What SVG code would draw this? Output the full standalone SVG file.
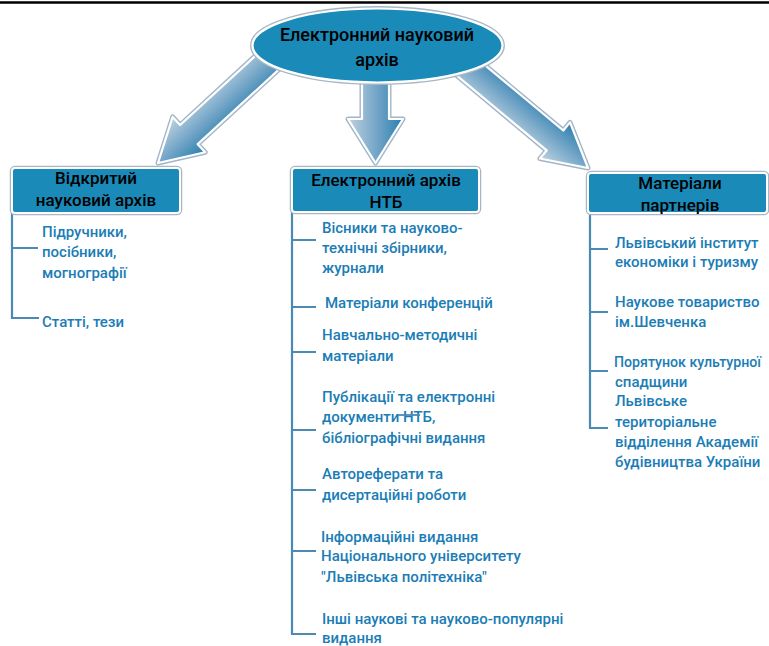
<svg xmlns="http://www.w3.org/2000/svg" width="769" height="646" viewBox="0 0 769 646">
<defs>
<linearGradient id="ag" x1="0" y1="0" x2="1" y2="0">
<stop offset="0" stop-color="#bfd2e0"/>
<stop offset="0.55" stop-color="#6fa3c6"/>
<stop offset="1" stop-color="#2a7fae"/>
</linearGradient>
<style>
.bg{fill:#ffffff}
.arrowOut{fill:none;stroke:#a3b6c6;stroke-width:5;stroke-linejoin:round}
.arrowIn{fill:url(#ag);stroke:#ffffff;stroke-width:2.2;stroke-linejoin:round}
.boxOut{fill:none;stroke:#a9b7c4;stroke-width:4.5}
.box{fill:#1a8ab8;stroke:#ffffff;stroke-width:2}
.hdr{font-family:Roboto,"Liberation Sans",sans-serif;font-size:17px;font-weight:500;fill:#000000;text-anchor:middle}
.ttl{font-family:Roboto,"Liberation Sans",sans-serif;font-size:18px;font-weight:500;fill:#000000;text-anchor:middle}
.item{font-family:Roboto,"Liberation Sans",sans-serif;font-size:15px;font-weight:500;fill:#1b7db6}
.br{fill:none;stroke:#4b8ab4;stroke-width:2.2}
</style>
</defs>
<rect class="bg" x="0" y="0" width="769" height="646"/>
<line x1="0" y1="2.5" x2="769" y2="2.5" stroke="#000000" stroke-width="2.5"/>

<g id="arrows">
<g transform="translate(158,163) rotate(47.4) translate(0,-165)">
<polygon class="arrowOut" points="-13,0 13,0 13,123 24,123 0,165 -24,123 -13,123"/>
<polygon class="arrowIn" points="-13,0 13,0 13,123 24,123 0,165 -24,123 -13,123"/>
</g>
<g transform="translate(375.5,163) rotate(0) translate(0,-95)">
<polygon class="arrowOut" points="-13.5,0 13.5,0 13.5,51 27.5,51 0,95 -27.5,51 -13.5,51"/>
<polygon class="arrowIn" points="-13.5,0 13.5,0 13.5,51 27.5,51 0,95 -27.5,51 -13.5,51"/>
</g>
<g transform="translate(588,168) rotate(-50.2) translate(0,-165)">
<polygon class="arrowOut" points="-13,0 13,0 13,122 23.5,122 0,165 -23.5,122 -13,122"/>
<polygon class="arrowIn" points="-13,0 13,0 13,122 23.5,122 0,165 -23.5,122 -13,122"/>
</g>
</g>

<g id="root">
<ellipse cx="377.5" cy="45.5" rx="125" ry="37" fill="none" stroke="#a9b7c4" stroke-width="5"/>
<ellipse cx="377.5" cy="45.5" rx="125" ry="37" fill="#1a8ab8" stroke="#ffffff" stroke-width="2.2"/>
<text class="ttl" x="377" y="41">Електронний науковий</text>
<text class="ttl" x="377" y="66">архів</text>
</g>

<g id="connectors">
<path class="br" d="M12,213 V318 H39 M12,248 H38"/>
<path class="br" d="M292,212 V634 H316 M292,240 H316 M292,307 H316 M292,352 H316 M292,430 H316 M292,490 H316 M292,551 H316"/>
<path class="br" d="M590,213 V428 H608 M590,249 H608 M590,312 H608 M590,371 H608"/>
</g>

<g id="box-open">
<rect class="boxOut" x="12" y="168" width="168" height="45" rx="3"/>
<rect class="box" x="12" y="168" width="168" height="45" rx="3"/>
<text class="hdr" x="96" y="184">Відкритий</text>
<text class="hdr" x="96" y="206">науковий архів</text>
</g>

<g id="box-ntb">
<rect class="boxOut" x="292" y="168" width="187" height="44" rx="3"/>
<rect class="box" x="292" y="168" width="187" height="44" rx="3"/>
<text class="hdr" x="386" y="186">Електронний архів</text>
<text class="hdr" x="386" y="208">НТБ</text>
</g>

<g id="box-partners">
<rect class="boxOut" x="588" y="173" width="179" height="40" rx="3"/>
<rect class="box" x="588" y="173" width="179" height="40" rx="3"/>
<text class="hdr" x="680" y="189">Матеріали</text>
<text class="hdr" x="680" y="211">партнерів</text>
</g>

<g id="open-items">
<text class="item" x="42" y="237">Підручники,</text>
<text class="item" x="42" y="257">посібники,</text>
<text class="item" x="42" y="278">могнографії</text>
<text class="item" x="42" y="327">Статті, тези</text>
</g>

<g id="ntb-items">
<text class="item" x="322" y="233">Вісники та науково-</text>
<text class="item" x="322" y="253">технічні збірники,</text>
<text class="item" x="322" y="273">журнали</text>
<text class="item" x="325" y="308">Матеріали конференцій</text>
<text class="item" x="322" y="340">Навчально-методичні</text>
<text class="item" x="322" y="361">матеріали</text>
<text class="item" x="322" y="402">Публікації та електронні</text>
<text class="item" x="322" y="422">документи НТБ,</text>
<text class="item" x="322" y="443">бібліографічні видання</text>
<line x1="398" y1="415" x2="420" y2="415" stroke="#4b8ab4" stroke-width="1.8"/>
<text class="item" x="322" y="479">Автореферати та</text>
<text class="item" x="322" y="500">дисертаційні роботи</text>
<text class="item" x="321" y="542">Інформаційні видання</text>
<text class="item" x="321" y="561">Національного університету</text>
<text class="item" x="321" y="582">"Львівська політехніка"</text>
<text class="item" x="322" y="624">Інші наукові та науково-популярні</text>
<text class="item" x="322" y="643">видання</text>
</g>

<g id="partner-items">
<text class="item" x="615" y="248">Львівський інститут</text>
<text class="item" x="615" y="267">економіки і туризму</text>
<text class="item" x="615" y="307">Наукове товариство</text>
<text class="item" x="615" y="327">ім.Шевченка</text>
<text class="item" x="614" y="367" textLength="147" lengthAdjust="spacingAndGlyphs">Порятунок культурної</text>
<text class="item" x="615" y="387">спадщини</text>
<text class="item" x="615" y="406">Львівське</text>
<text class="item" x="615" y="427">територіальне</text>
<text class="item" x="615" y="447">відділення Академії</text>
<text class="item" x="615" y="467">будівництва України</text>
</g>
</svg>
